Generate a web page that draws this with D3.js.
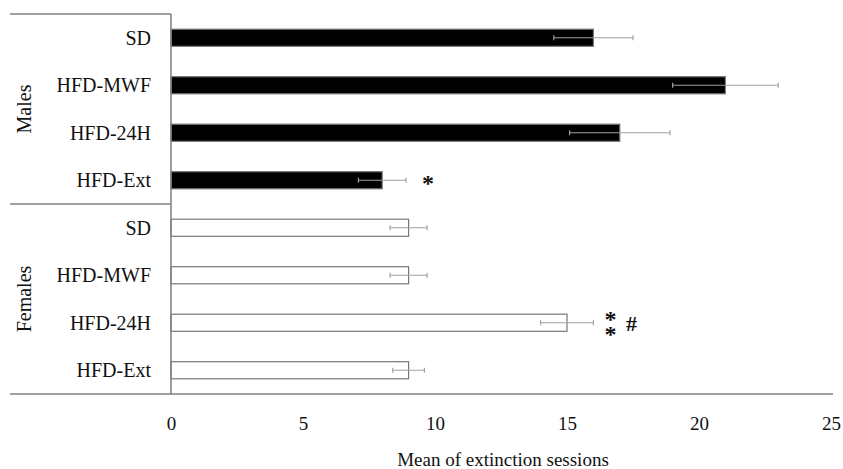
<!DOCTYPE html>
<html lang="en">
  <head>
    <meta charset="UTF-8" />
    <title>Mean of extinction sessions</title>
    <script src="https://d3js.org/d3.v7.min.js"></script>
    <style>
      body {
        margin: 0;
        background: #fff;
      }
      svg text {
        font-family: "Liberation Serif", "DejaVu Serif", serif;
        fill: #111;
      }
      .cat {
        font-size: 20px;
      }
      .tick text {
        font-size: 19px;
      }
      .err {
        stroke: #a0a0a0;
        stroke-width: 1.2;
      }
      .frame {
        stroke: #808080;
        stroke-width: 1.5;
      }
    </style>
  </head>
  <body>
    <div id="chart"></div>

    <script>
      // values
      const groups = ["Males", "Females"];
      const conditions = ["SD", "HFD-MWF", "HFD-24H", "HFD-Ext"];
      const maleMeans = [16, 21, 17, 8];
      const maleErrors = [1.5, 2, 1.9, 0.9];
      const femaleMeans = [9, 9, 15, 9];
      const femaleErrors = [0.7, 0.7, 1, 0.6];
      const maleMarks = ["", "", "", "*"];
      const femaleMarks = ["", "", "**#", ""];
      const xTicks = [0, 5, 10, 15, 20, 25];

      const width = 843;
      const height = 469;
      const margin = { top: 14, left: 171 };
      const plotBottom = 394;

      const rows = [];
      groups.forEach((g, gi) => {
        conditions.forEach((c, ci) => {
          rows.push({
            key: g + "-" + c,
            group: g,
            cond: c,
            mean: gi === 0 ? maleMeans[ci] : femaleMeans[ci],
            err: gi === 0 ? maleErrors[ci] : femaleErrors[ci],
            mark: gi === 0 ? maleMarks[ci] : femaleMarks[ci],
          });
        });
      });

      const svg = d3.select("#chart").append("svg").attr("width", width).attr("height", height);

      const x = d3.scaleLinear().domain([0, 25]).range([margin.left, 831]);
      const y = d3
        .scaleBand()
        .domain(rows.map((d) => d.key))
        .range([margin.top, plotBottom])
        .paddingInner(0.64)
        .paddingOuter(0.32);

      // bars
      svg
        .selectAll(".bar")
        .data(rows)
        .enter()
        .append("rect")
        .attr("class", "bar")
        .attr("x", x(0))
        .attr("y", (d) => y(d.key))
        .attr("width", (d) => x(d.mean) - x(0))
        .attr("height", y.bandwidth())
        .attr("fill", (d) => (d.group === "Males" ? "#000" : "#fff"))
        .attr("stroke", "#777")
        .attr("stroke-width", 1.2);

      // error bars
      const eb = svg
        .selectAll(".eb")
        .data(rows)
        .enter()
        .append("g")
        .attr("class", "eb")
        .attr("transform", (d) => `translate(0, ${y(d.key) + y.bandwidth() / 2})`);
      eb.append("line")
        .attr("class", "err")
        .attr("x1", (d) => x(d.mean - d.err))
        .attr("x2", (d) => x(d.mean + d.err))
        .attr("y1", 0)
        .attr("y2", 0);
      eb.append("line")
        .attr("class", "err")
        .attr("x1", (d) => x(d.mean - d.err))
        .attr("x2", (d) => x(d.mean - d.err))
        .attr("y1", -2.5)
        .attr("y2", 2.5);
      eb.append("line")
        .attr("class", "err")
        .attr("x1", (d) => x(d.mean + d.err))
        .attr("x2", (d) => x(d.mean + d.err))
        .attr("y1", -2.5)
        .attr("y2", 2.5);

      // significance marks
      eb.each(function (d) {
        if (!d.mark) return;
        const g = d3.select(this);
        const x0 = x(d.mean + d.err);
        const stars = d.mark.replace("#", "");
        if (stars.length === 1) {
          g.append("text")
            .attr("x", x0 + 22)
            .attr("y", 11)
            .attr("text-anchor", "middle")
            .attr("font-size", 24)
            .attr("font-weight", "bold")
            .text("*");
        } else {
          // two stacked stars
          const st = g
            .append("text")
            .attr("text-anchor", "middle")
            .attr("font-size", 24)
            .attr("font-weight", "bold");
          st.append("tspan").attr("x", x0 + 17).attr("y", 4).text("*");
          st.append("tspan").attr("x", x0 + 17).attr("y", 19).text("*");
        }
        if (d.mark.includes("#")) {
          g.append("text")
            .attr("x", x0 + 38)
            .attr("y", 8)
            .attr("text-anchor", "middle")
            .attr("font-size", 22)
            .attr("font-weight", "bold")
            .text("#");
        }
      });

      // frame lines
      const split = y(rows[4].key) - (y.step() - y.bandwidth()) / 2;
      svg.append("line").attr("class", "frame").attr("x1", 10).attr("x2", x(0)).attr("y1", margin.top).attr("y2", margin.top);
      svg.append("line").attr("class", "frame").attr("x1", 10).attr("x2", x(0)).attr("y1", split).attr("y2", split);
      svg.append("line").attr("class", "frame").attr("x1", 10).attr("x2", 833).attr("y1", plotBottom).attr("y2", plotBottom);
      svg.append("line").attr("class", "frame").attr("x1", x(0)).attr("x2", x(0)).attr("y1", margin.top).attr("y2", plotBottom);

      // category labels
      svg
        .selectAll(".catlabel")
        .data(rows)
        .enter()
        .append("text")
        .attr("class", "cat catlabel")
        .attr("x", 151)
        .attr("y", (d) => y(d.key) + y.bandwidth() / 2)
        .attr("dy", "0.35em")
        .attr("text-anchor", "end")
        .text((d) => d.cond);

      // group labels
      groups.forEach((g, gi) => {
        const first = y(rows[gi * 4].key);
        const last = y(rows[gi * 4 + 3].key) + y.bandwidth();
        const cy = (first + last) / 2;
        svg
          .append("text")
          .attr("class", "cat")
          .attr("transform", `translate(24, ${cy}) rotate(-90)`)
          .attr("dy", "0.35em")
          .attr("text-anchor", "middle")
          .text(g);
      });

      // x axis labels
      const xAxis = d3.axisBottom(x).tickValues(xTicks).tickSize(0).tickPadding(0);
      const ax = svg.append("g").attr("transform", `translate(0, 416)`).call(xAxis);
      ax.select(".domain").remove();
      ax.selectAll("text").attr("dy", "0.71em");

      svg
        .append("text")
        .attr("x", 503)
        .attr("y", 466)
        .attr("text-anchor", "middle")
        .attr("font-size", 19)
        .text("Mean of extinction sessions");
    </script>
  </body>
</html>
